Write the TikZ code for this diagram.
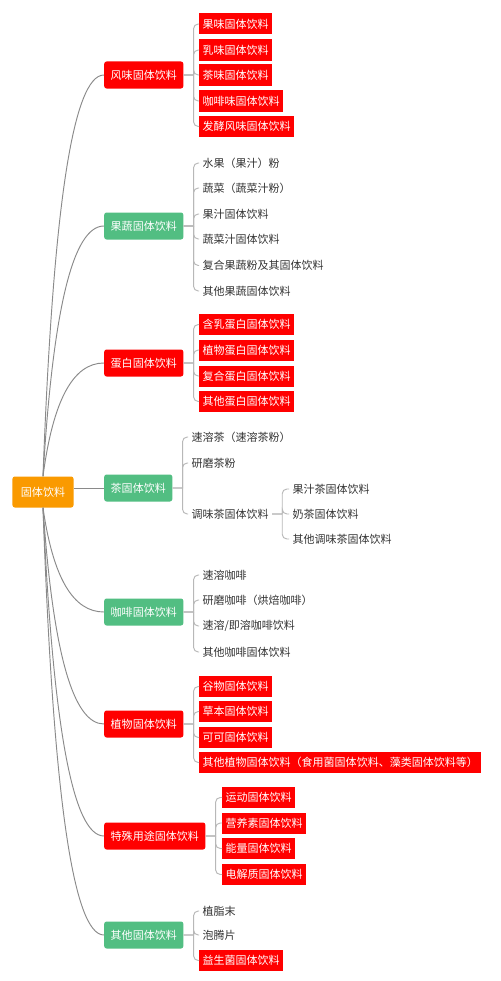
\documentclass[tikz,border=0pt]{standalone}
\usepackage{fontspec}
\setmainfont{Noto Sans CJK SC}
\usetikzlibrary{calc}
\definecolor{xmRed}{HTML}{FF0000}
\definecolor{xmGreen}{HTML}{52BE82}
\definecolor{xmOrange}{HTML}{FA9A00}
\definecolor{lineGray}{HTML}{8A8A8A}
\definecolor{leafGray}{HTML}{B8B8B8}
\definecolor{textDark}{HTML}{333333}

\begin{document}
\begin{tikzpicture}[x=0.03cm, y=-0.03cm,
    font=\fontsize{9.4}{11}\selectfont,
    gen/.style={fill=xmOrange, text=white, rounded corners=2pt,
                minimum width=1.83cm, minimum height=0.93cm},
    lei/.style={anchor=west, rounded corners=2pt, text=white,
                inner xsep=0.195cm, minimum height=0.81cm},
    hong/.style={anchor=west, fill=xmRed, text=white, inner xsep=0.1cm,
                 inner ysep=0pt, minimum height=0.63cm},
    wen/.style={anchor=west, text=textDark, inner xsep=0.1cm,
                inner ysep=0pt, minimum height=0.63cm},
    gan/.style={draw=lineGray, line width=0.8pt},
    tronco/.style={gan, to path={.. controls ($(\tikztostart)!.67!(\tikztostart |- \tikztotarget)+(10,0)$)
                   and ($(\tikztotarget)+(-31,0)$) .. (\tikztotarget)}},
    rama/.style={draw=leafGray, line width=0.8pt,
                 to path={-- ++(10,0) (\tikztostart) ++(10,0) [rounded corners=4pt] |- (\tikztotarget)}}]
    \fill[white] (0,0) rectangle (500,981);
    \useasboundingbox (0,0) rectangle (500,981);

    \node[gen] (raiz) at (43,492) {固体饮料};

    \node[lei, fill=xmRed]   (fv) at (104,75)  {风味固体饮料};
    \node[lei, fill=xmGreen] (gs) at (104,226) {果蔬固体饮料};
    \node[lei, fill=xmRed]   (db) at (104,363) {蛋白固体饮料};
    \node[lei, fill=xmGreen] (ch) at (104,488) {茶固体饮料};
    \node[lei, fill=xmGreen] (kf) at (104,612) {咖啡固体饮料};
    \node[lei, fill=xmRed]   (zw) at (104,724) {植物固体饮料};
    \node[lei, fill=xmRed]   (ts) at (104,836) {特殊用途固体饮料};
    \node[lei, fill=xmGreen] (qt) at (104,935) {其他固体饮料};

    % 风味
    \node[hong] (fv1) at (199,24)    {果味固体饮料};
    \node[hong] (fv2) at (199,50)    {乳味固体饮料};
    \node[hong] (fv3) at (199,75)    {茶味固体饮料};
    \node[hong] (fv4) at (199,101)   {咖啡味固体饮料};
    \node[hong] (fv5) at (199,126.5) {发酵风味固体饮料};
    % 果蔬
    \node[wen] (gs1) at (199,163)   {水果（果汁）粉};
    \node[wen] (gs2) at (199,188)   {蔬菜（蔬菜汁粉）};
    \node[wen] (gs3) at (199,214)   {果汁固体饮料};
    \node[wen] (gs4) at (199,239)   {蔬菜汁固体饮料};
    \node[wen] (gs5) at (199,265.5) {复合果蔬粉及其固体饮料};
    \node[wen] (gs6) at (199,291)   {其他果蔬固体饮料};
    % 蛋白
    \node[hong] (db1) at (199,324.5) {含乳蛋白固体饮料};
    \node[hong] (db2) at (199,350)   {植物蛋白固体饮料};
    \node[hong] (db3) at (199,376)   {复合蛋白固体饮料};
    \node[hong] (db4) at (199,401.5) {其他蛋白固体饮料};
    % 茶
    \node[wen] (ch1) at (188,437) {速溶茶（速溶茶粉）};
    \node[wen] (ch2) at (188,463) {研磨茶粉};
    \node[wen] (ch3) at (188,514) {调味茶固体饮料};
    \node[wen] (tw1) at (289,489) {果汁茶固体饮料};
    \node[wen] (tw2) at (289,514) {奶茶固体饮料};
    \node[wen] (tw3) at (289,539) {其他调味茶固体饮料};
    % 咖啡
    \node[wen] (kf1) at (199,575) {速溶咖啡};
    \node[wen] (kf2) at (199,600) {研磨咖啡（烘焙咖啡）};
    \node[wen] (kf3) at (199,626) {速溶/即溶咖啡饮料};
    \node[wen] (kf4) at (199,652) {其他咖啡固体饮料};
    % 植物
    \node[hong] (zw1) at (199,686.5) {谷物固体饮料};
    \node[hong] (zw2) at (199,711.5) {草本固体饮料};
    \node[hong] (zw3) at (199,737.5) {可可固体饮料};
    \node[hong] (zw4) at (199,762.5) {其他植物固体饮料（食用菌固体饮料、藻类固体饮料等）};
    % 特殊用途
    \node[hong] (ts1) at (222,797.5) {运动固体饮料};
    \node[hong] (ts2) at (222,823)   {营养素固体饮料};
    \node[hong] (ts3) at (222,848.5) {能量固体饮料};
    \node[hong] (ts4) at (222,874.5) {电解质固体饮料};
    % 其他
    \node[wen]  (qt1) at (199,911)   {植脂末};
    \node[wen]  (qt2) at (199,935)   {泡腾片};
    \node[hong] (qt3) at (199,960.5) {益生菌固体饮料};

    \draw[tronco] (raiz.north) to (fv.west); \draw[tronco] (raiz.north) to (gs.west);
    \draw[tronco] (raiz.north) to (db.west); \draw[gan] (raiz.east |- ch.west) -- (ch.west);
    \draw[tronco] (raiz.south) to (kf.west); \draw[tronco] (raiz.south) to (zw.west);
    \draw[tronco] (raiz.south) to (ts.west); \draw[tronco] (raiz.south) to (qt.west);

    \draw[rama] (fv.east) to (fv1.west); \draw[rama] (fv.east) to (fv2.west);
    \draw[rama] (fv.east) to (fv3.west); \draw[rama] (fv.east) to (fv4.west);
    \draw[rama] (fv.east) to (fv5.west);
    \draw[rama] (gs.east) to (gs1.west); \draw[rama] (gs.east) to (gs2.west);
    \draw[rama] (gs.east) to (gs3.west); \draw[rama] (gs.east) to (gs4.west);
    \draw[rama] (gs.east) to (gs5.west); \draw[rama] (gs.east) to (gs6.west);
    \draw[rama] (db.east) to (db1.west); \draw[rama] (db.east) to (db2.west);
    \draw[rama] (db.east) to (db3.west); \draw[rama] (db.east) to (db4.west);
    \draw[rama] (ch.east) to (ch1.west); \draw[rama] (ch.east) to (ch2.west);
    \draw[rama] (ch.east) to (ch3.west);
    \draw[rama] (ch3.east) to (tw1.west); \draw[rama] (ch3.east) to (tw2.west);
    \draw[rama] (ch3.east) to (tw3.west);
    \draw[rama] (kf.east) to (kf1.west); \draw[rama] (kf.east) to (kf2.west);
    \draw[rama] (kf.east) to (kf3.west); \draw[rama] (kf.east) to (kf4.west);
    \draw[rama] (zw.east) to (zw1.west); \draw[rama] (zw.east) to (zw2.west);
    \draw[rama] (zw.east) to (zw3.west); \draw[rama] (zw.east) to (zw4.west);
    \draw[rama] (ts.east) to (ts1.west); \draw[rama] (ts.east) to (ts2.west);
    \draw[rama] (ts.east) to (ts3.west); \draw[rama] (ts.east) to (ts4.west);
    \draw[rama] (qt.east) to (qt1.west); \draw[rama] (qt.east) to (qt2.west);
    \draw[rama] (qt.east) to (qt3.west);
\end{tikzpicture}
\end{document}
